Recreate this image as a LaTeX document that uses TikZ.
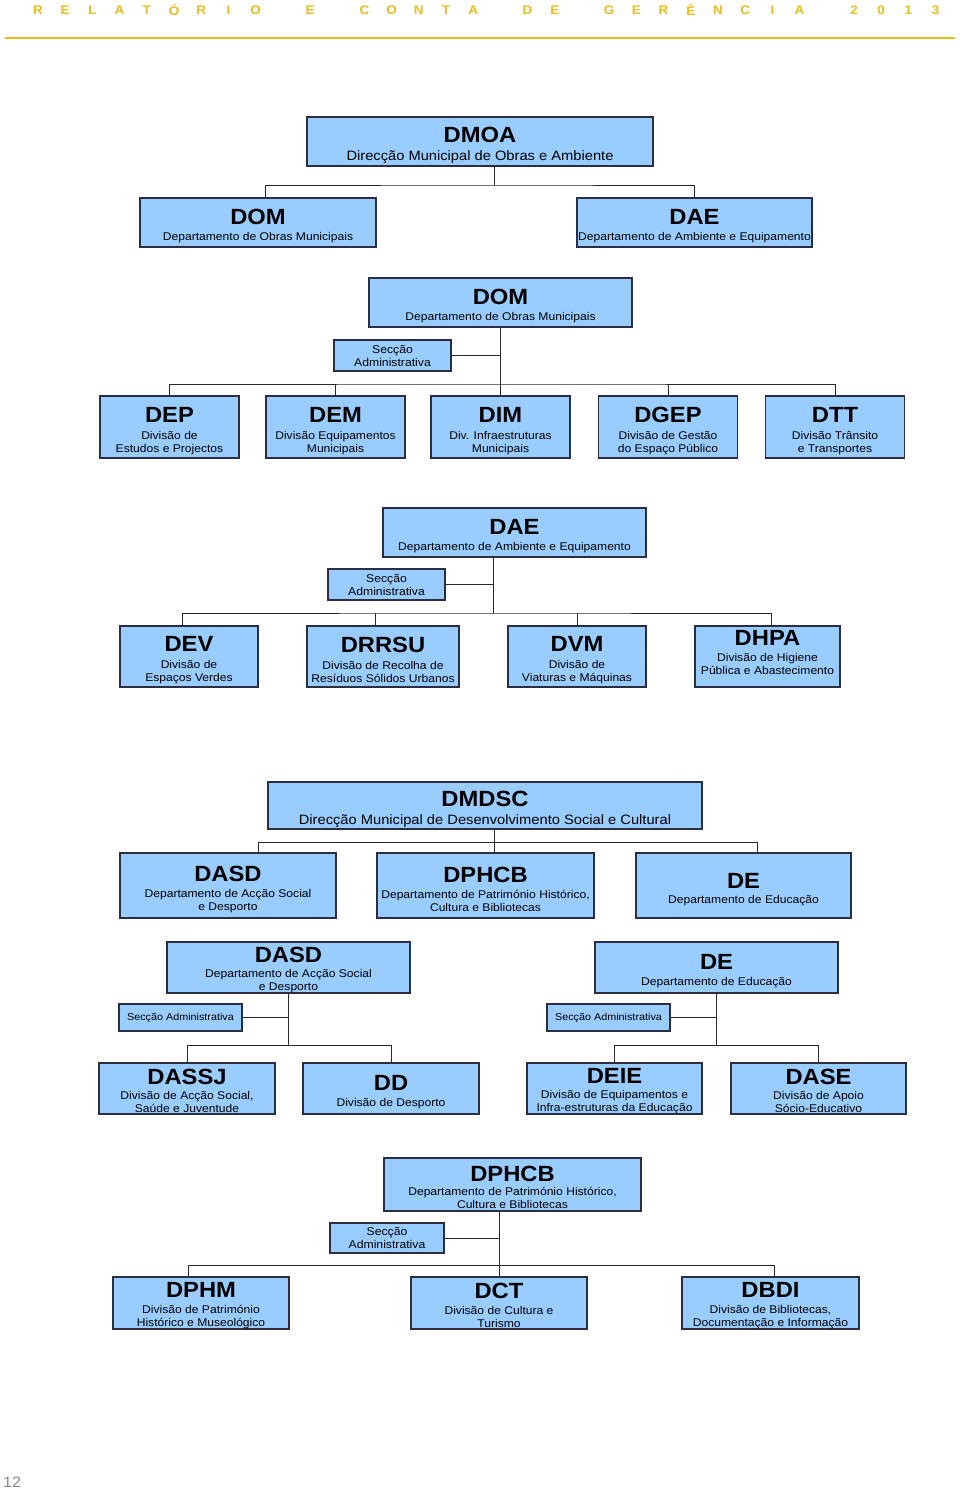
\documentclass[tikz,border=0pt]{standalone}
\usepackage{fontspec}
\setmainfont{Liberation Sans}[FakeStretch=1.08]
\usetikzlibrary{calc}
\definecolor{boxfill}{RGB}{153,204,255}
\definecolor{boxline}{RGB}{45,45,65}
\definecolor{linkcol}{RGB}{40,40,40}
\definecolor{hdrgold}{RGB}{230,188,30}
% title line of a box; the optional strut height moves the text down a little
\newcommand{\ttl}[2][23pt]{{\fontsize{22}{24}\selectfont\bfseries\rule{0pt}{#1}#2}}
\newcommand{\bigsub}{\fontsize{13.6}{16}\selectfont}
\newcommand{\subtxt}{\fontsize{11.2}{13}\selectfont}
\newcommand{\sectxt}{\fontsize{11.3}{13}\selectfont}
\newcommand{\smallsec}{\fontsize{10}{12}\selectfont}

\begin{document}
\begin{tikzpicture}[x=1pt, y=-1pt,
    unit/.style={draw=boxline, fill=boxfill, line width=1.2pt, inner sep=0pt, align=center, font=\subtxt},
    topunit/.style={unit, font=\bigsub},
    secunit/.style={unit, font=\sectxt},
    link/.style={draw=linkcol, line width=1pt},
    hdr/.style={text=hdrgold, font=\fontsize{12.5}{14}\selectfont\bfseries}]
    \useasboundingbox[fill=white] (0,0) rectangle (960,1491);

    % Page header
    \foreach \i/\l in {0/R,1/E,2/L,3/A,4/T,5/Ó,6/R,7/I,8/O,10/E,12/C,13/O,14/N,15/T,16/A,
                       18/D,19/E,21/G,22/E,23/R,24/Ê,25/N,26/C,27/I,28/A,30/2,31/0,32/1,33/3} {
      \node[hdr] (h\i) at (38+27.2*\i,10) {\l};
    }
    \draw[hdrgold, line width=1.3pt] (5,38) -- (955,38);

    % DMOA
    \node[topunit, minimum width=346, minimum height=49] (dmoa) at (480,141.5) {\ttl{DMOA}\\[2pt]Direcção Municipal de Obras e Ambiente};
    \node[unit, minimum width=236, minimum height=49] (dom) at (258,222.5) {\ttl{DOM}\\[3pt]Departamento de Obras Municipais};
    \node[unit, minimum width=235, minimum height=49] (dae) at (694.5,222.5) {\ttl{DAE}\\[3pt]Departamento de Ambiente e Equipamento};
    \coordinate (b1) at (494,185);
    \draw[link] (b1 |- dmoa.south) -- (b1);
    \draw[link] ([xshift=7pt]dom.north) |- (b1) -| (dae.north);

    % DOM
    \node[unit, minimum width=263, minimum height=49] (dom2) at (500.5,302.5) {\ttl{DOM}\\[3pt]Departamento de Obras Municipais};
    \node[secunit, minimum width=117, minimum height=31] (sec2) at (392.5,355.5) {Secção\\Administrativa};
    \foreach \n/\x/\ti/\ua/\ub in {dep/169.5/DEP/Divisão de/Estudos e Projectos,
        dem/335.5/DEM/Divisão Equipamentos/Municipais,
        dim/500.5/DIM/Div. Infraestruturas/Municipais,
        dgep/668/DGEP/Divisão de Gestão/do Espaço Público,
        dtt/835/DTT/Divisão Trânsito/e Transportes} {
      \node[unit, minimum width=139, minimum height=62] (\n) at (\x,427) {\ttl{\ti}\\[4pt]\ua\\\ub};
    }
    \coordinate (b2) at (500.5,384);
    \draw[link] (dom2.south) -- (dim.north);
    \draw[link] (sec2.east) -- (sec2.east -| b2);
    \draw[link] (dep.north) |- (b2) -| (dtt.north);
    \draw[link] (dem.north) -- (dem.north |- b2);
    \draw[link] (dgep.north) -- (dgep.north |- b2);

    % DAE
    \node[unit, minimum width=263, minimum height=49] (dae2) at (514.5,532.5) {\ttl{DAE}\\[3pt]Departamento de Ambiente e Equipamento};
    \node[secunit, minimum width=117, minimum height=31] (sec3) at (386.5,584.5) {Secção\\Administrativa};
    \node[unit, minimum width=138, minimum height=61] (dev) at (189,656.5) {\ttl{DEV}\\[4pt]Divisão de\\Espaços Verdes};
    \node[unit, minimum width=152, minimum height=61] (drrsu) at (383,656.5) {\ttl{DRRSU}\\[4pt]Divisão de Recolha de\\Resíduos Sólidos Urbanos};
    \node[unit, minimum width=138, minimum height=61] (dvm) at (577,656.5) {\ttl{DVM}\\[4pt]Divisão de\\Viaturas e Máquinas};
    \node[unit, minimum width=145, minimum height=61] (dhpa) at (767.5,656.5) {\ttl[0pt]{DHPA}\\[3pt]Divisão de Higiene\\Pública e Abastecimento\rule[-9pt]{0pt}{0pt}};
    \coordinate (b3) at (493,613);
    \draw[link] (b3 |- dae2.south) -- (b3);
    \draw[link] (sec3.east) -- (sec3.east -| b3);
    \draw[link] ([xshift=-7pt]dev.north) |- (b3) -| ([xshift=4pt]dhpa.north);
    \draw[link] ([xshift=-8pt]drrsu.north) -- ([xshift=-8pt]drrsu.north |- b3);
    \draw[link] (dvm.north) -- (dvm.north |- b3);

    % DMDSC
    \node[topunit, minimum width=434, minimum height=47] (dmdsc) at (485,805.5) {\ttl{DMDSC}\\[2pt]Direcção Municipal de Desenvolvimento Social e Cultural};
    \node[unit, minimum width=216, minimum height=65] (dasd) at (228,885.5) {\ttl{DASD}\\[3pt]Departamento de Acção Social\\e Desporto};
    \node[unit, minimum width=217, minimum height=65] (dphcb) at (485.5,885.5) {\ttl{DPHCB}\\[3pt]Departamento de Património Histórico,\\Cultura e Bibliotecas};
    \node[unit, minimum width=215, minimum height=65] (de) at (743.5,885.5) {\ttl{DE}\\[2pt]Departamento de Educação};
    \coordinate (b4) at (494,842);
    \draw[link] (b4 |- dmdsc.south) -- (b4 |- dphcb.north);
    \draw[link] ([xshift=30pt]dasd.north) |- (b4) -| ([xshift=14pt]de.north);

    % DASD
    \node[unit, minimum width=243, minimum height=51] (dasd2) at (288.5,967.5) {\ttl[20pt]{DASD}\\[2pt]Departamento de Acção Social\\e Desporto};
    \node[unit, font=\smallsec, minimum width=123, minimum height=27] (sec5l) at (180.5,1017.5) {Secção Administrativa};
    \node[unit, minimum width=176, minimum height=51] (dassj) at (187,1088.5) {\ttl[20pt]{DASSJ}\\[2pt]Divisão de Acção Social,\\Saúde e Juventude};
    \node[unit, minimum width=176, minimum height=51] (dd) at (391,1088.5) {\ttl{DD}\\[3pt]Divisão de Desporto};
    \coordinate (b5l) at (288.5,1045);
    \draw[link] (dasd2.south) -- (b5l);
    \draw[link] (sec5l.east) -- (sec5l.east -| b5l);
    \draw[link] (dassj.north) |- (b5l) -| (dd.north);

    % DE
    \node[unit, minimum width=243, minimum height=51] (de2) at (716.5,967.5) {\ttl{DE}\\[3pt]Departamento de Educação};
    \node[unit, font=\smallsec, minimum width=123, minimum height=27] (sec5r) at (608.5,1017.5) {Secção Administrativa};
    \node[unit, minimum width=175, minimum height=51] (deie) at (614.5,1088.5) {\ttl[20pt]{DEIE}\\[2pt]Divisão de Equipamentos e\\Infra-estruturas da Educação};
    \node[unit, minimum width=175, minimum height=51] (dase) at (818.5,1088.5) {\ttl[20pt]{DASE}\\[2pt]Divisão de Apoio\\Sócio-Educativo};
    \coordinate (b5r) at (716.5,1045);
    \draw[link] (de2.south) -- (b5r);
    \draw[link] (sec5r.east) -- (sec5r.east -| b5r);
    \draw[link] (deie.north) |- (b5r) -| (dase.north);

    % DPHCB
    \node[unit, minimum width=257, minimum height=53] (dphcb2) at (512.5,1184.5) {\ttl[22pt]{DPHCB}\\[1pt]Departamento de Património Histórico,\\Cultura e Bibliotecas};
    \node[secunit, minimum width=114, minimum height=30] (sec6) at (387,1238) {Secção\\Administrativa};
    \node[unit, minimum width=176, minimum height=52] (dphm) at (201,1303) {\ttl[20pt]{DPHM}\\[3pt]Divisão de Património\\Histórico e Museológico};
    \node[unit, minimum width=176, minimum height=52] (dct) at (499,1303) {\ttl[20pt]{DCT}\\[3pt]Divisão de Cultura e\\Turismo};
    \node[unit, minimum width=177, minimum height=52] (dbdi) at (770.5,1303) {\ttl[20pt]{DBDI}\\[3pt]Divisão de Bibliotecas,\\Documentação e Informação};
    \coordinate (b6) at (499,1265);
    \draw[link] (b6 |- dphcb2.south) -- (dct.north);
    \draw[link] (sec6.east) -- (sec6.east -| b6);
    \draw[link] ([xshift=-13pt]dphm.north) |- (b6) -| ([xshift=4pt]dbdi.north);

    % Page number
    \node[text=black!45, font=\fontsize{15}{18}\selectfont, inner sep=0pt, anchor=south west] (pg) at (3,1488) {12};
\end{tikzpicture}
\end{document}
